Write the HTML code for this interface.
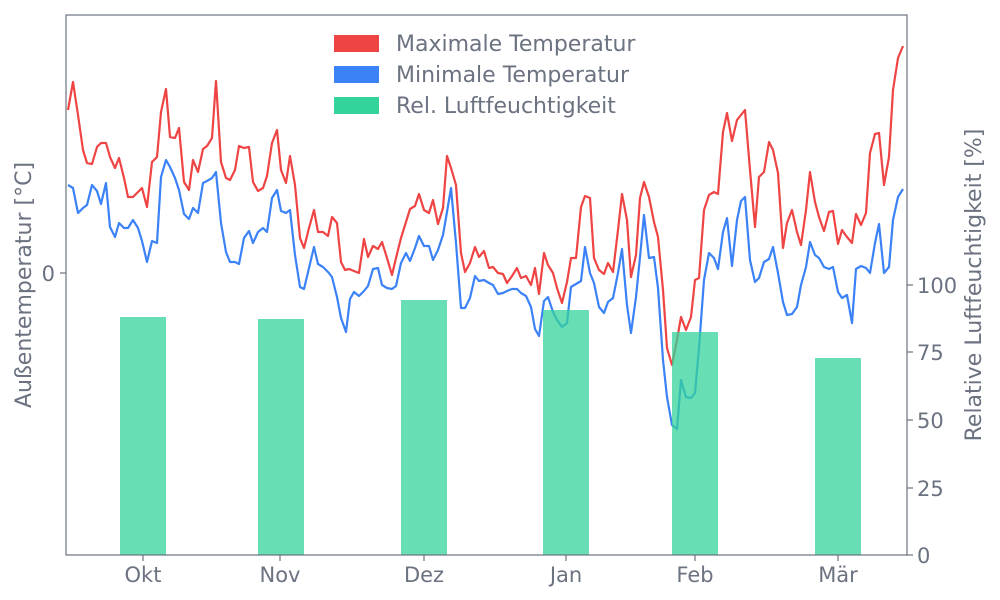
<!DOCTYPE html>
<html><head><meta charset="utf-8"><style>
html,body{margin:0;padding:0;background:#fff;}
svg{display:block;font-family:"DejaVu Sans","Liberation Sans",sans-serif;}
</style></head><body>
<svg width="1000" height="600" viewBox="0 0 1000 600">
<rect width="1000" height="600" fill="#fff"/>
<g fill="none" stroke-width="2.2" stroke-linejoin="round">
<polyline stroke="#ef4444" points="68,110 73,82 78,115 83,150 87,163 92,164 97,147 101,143 106,143 110,157 115,168 119,158 124,178 128,197 133,197 138,192 142,188 147,207 152,162 157,157 161,112 166,89 170,137 175,138 179,128 184,182 189,190 193,160 198,172 203,149 207,146 212,138 216,81 221,162 226,178 230,180 235,170 239,146 244,148 249,147 253,182 258,191 263,188 267,176 272,143 277,130 281,170 286,183 290,156 295,185 300,238 304,248 309,228 314,210 318,232 323,232 328,236 332,217 337,223 341,262 345,270 349,269 354,271 359,273 364,239 368,257 373,246 378,249 382,242 387,258 392,275 396,258 401,238 406,222 410,209 415,206 419,194 424,210 429,213 433,200 438,224 443,208 447,156 451,168 456,185 461,253 465,272 470,263 475,247 479,257 484,251 489,268 493,267 498,273 503,274 507,283 512,276 517,268 521,278 526,276 531,285 535,268 539,294 544,253 548,265 553,273 557,288 562,303 567,282 571,258 576,258 581,207 585,196 590,198 594,258 599,270 604,274 608,263 613,272 618,230 622,194 627,220 631,277 636,255 640,198 644,182 649,197 654,222 658,237 663,290 667,348 672,365 677,340 681,317 686,330 691,317 695,280 699,278 704,210 709,195 714,192 718,194 723,132 727,113 732,141 737,120 741,115 745,110 750,170 755,227 759,177 764,172 769,142 773,150 778,173 783,248 787,223 792,210 797,232 801,245 806,210 810,172 815,202 819,217 824,231 829,212 833,211 838,244 842,230 847,237 852,243 856,214 861,225 866,213 870,153 875,134 879,133 884,185 889,157 893,90 898,58 903,46"/>
<polyline stroke="#3b82f6" points="68,185 73,188 78,213 83,208 87,205 92,185 97,191 101,204 106,183 110,227 115,237 119,223 124,228 128,228 133,220 138,228 142,241 147,262 152,241 157,243 161,177 166,160 170,167 175,178 179,190 184,214 189,219 193,208 198,213 203,183 207,181 212,178 216,172 221,223 226,252 230,262 235,262 239,264 244,238 249,231 253,243 258,232 263,228 267,232 272,198 277,190 281,211 286,213 290,210 295,255 300,287 304,289 309,268 314,247 318,264 323,267 328,272 332,277 337,297 341,318 346,332 350,299 354,292 359,296 364,291 368,286 373,269 378,268 382,285 387,288 392,289 396,286 401,263 406,253 410,261 415,248 419,236 424,246 429,246 433,260 438,250 443,235 447,212 451,188 456,243 461,308 465,308 470,298 475,276 479,281 484,280 489,283 493,285 498,294 503,293 507,291 512,289 517,289 521,293 526,296 531,307 535,329 539,336 544,301 548,297 553,312 557,320 562,327 567,323 571,287 576,284 581,281 585,247 590,273 594,283 599,307 604,313 608,302 613,298 618,273 622,249 627,305 631,333 636,297 640,257 644,215 649,258 654,257 658,288 663,360 667,397 672,425 677,429 681,380 686,397 691,398 695,393 699,348 704,280 709,253 714,258 718,269 723,232 727,218 732,266 737,220 741,201 745,197 750,260 755,282 759,278 764,262 769,259 773,247 778,273 783,302 787,315 792,314 797,307 801,285 806,267 810,242 815,255 819,258 824,267 829,269 833,267 838,292 842,298 847,295 852,323 856,269 861,266 866,268 870,273 875,243 879,224 884,273 889,267 893,220 898,197 903,189"/>
</g>
<g fill="#34d399" fill-opacity="0.75">
<rect x="120" y="317" width="46" height="238"/>
<rect x="258" y="319" width="46" height="236"/>
<rect x="401" y="300" width="46" height="255"/>
<rect x="543" y="310" width="46" height="245"/>
<rect x="672" y="332" width="46" height="223"/>
<rect x="815" y="358" width="46" height="197"/>
</g>
<rect x="66" y="15" width="841" height="540" fill="none" stroke="#6b7280" stroke-width="1.2"/>
<g stroke="#6b7280" stroke-width="1.2">
<line x1="60" y1="273" x2="66" y2="273"/>
<line x1="907" y1="555" x2="913" y2="555"/>
<line x1="907" y1="488" x2="913" y2="488"/>
<line x1="907" y1="420" x2="913" y2="420"/>
<line x1="907" y1="352" x2="913" y2="352"/>
<line x1="907" y1="285" x2="913" y2="285"/>
<line x1="143" y1="555" x2="143" y2="561"/>
<line x1="280" y1="555" x2="280" y2="561"/>
<line x1="424" y1="555" x2="424" y2="561"/>
<line x1="566" y1="555" x2="566" y2="561"/>
<line x1="695" y1="555" x2="695" y2="561"/>
<line x1="838" y1="555" x2="838" y2="561"/>
</g>
<g fill="#6b7280" font-size="21">
<text x="55" y="281" text-anchor="end">0</text>
<text x="917" y="563">0</text>
<text x="917" y="496">25</text>
<text x="917" y="428">50</text>
<text x="917" y="360">75</text>
<text x="917" y="293">100</text>
<g text-anchor="middle">
<text x="143" y="582">Okt</text>
<text x="280" y="582">Nov</text>
<text x="424" y="582">Dez</text>
<text x="566" y="582">Jan</text>
<text x="695" y="582">Feb</text>
<text x="838" y="582">Mär</text>
</g>
<text transform="translate(31,285) rotate(-90)" text-anchor="middle" font-size="22">Außentemperatur [°C]</text>
<text transform="translate(981,285) rotate(-90)" text-anchor="middle" font-size="22">Relative Luftfeuchtigkeit [%]</text>
</g>
<rect x="334" y="35" width="45" height="17" fill="#ef4444"/>
<rect x="334" y="66" width="45" height="17" fill="#3b82f6"/>
<rect x="334" y="97" width="45" height="17" fill="#34d399"/>
<g fill="#6b7280" font-size="22">
<text x="396" y="51">Maximale Temperatur</text>
<text x="396" y="82">Minimale Temperatur</text>
<text x="396" y="113">Rel. Luftfeuchtigkeit</text>
</g>
</svg>
</body></html>
